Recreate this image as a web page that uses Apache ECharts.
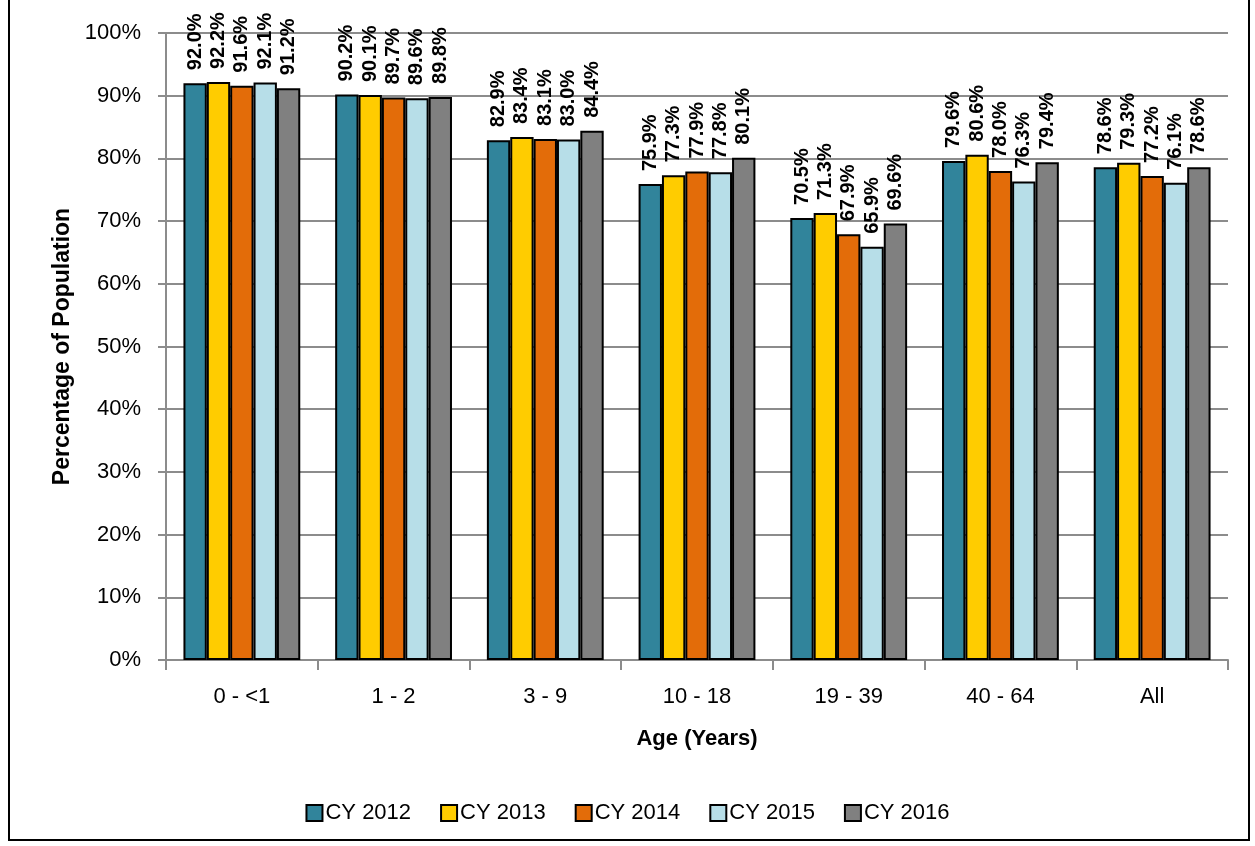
<!DOCTYPE html>
<html>
<head>
<meta charset="utf-8">
<script src="https://cdn.jsdelivr.net/npm/echarts@6/dist/echarts.min.js"></script>
<style>
  html, body { margin: 0; padding: 0; background: #fff; }
  #chart { width: 1255px; height: 846px; }
</style>
</head>
<body>
<div id="chart"></div>
<script>
// age groups on the x axis
var ageGroups = ['0 - <1', '1 - 2', '3 - 9', '10 - 18', '19 - 39', '40 - 64', 'All'];
var yearNames = ['CY 2012', 'CY 2013', 'CY 2014', 'CY 2015', 'CY 2016'];
var yearColors = ['#31849B', '#FFCC00', '#E36C09', '#B7DEE8', '#808080'];

var cy2012 = [92.0, 90.2, 82.9, 75.9, 70.5, 79.6, 78.6];
var cy2013 = [92.2, 90.1, 83.4, 77.3, 71.3, 80.6, 79.3];
var cy2014 = [91.6, 89.7, 83.1, 77.9, 67.9, 78.0, 77.2];
var cy2015 = [92.1, 89.6, 83.0, 77.8, 65.9, 76.3, 76.1];
var cy2016 = [91.2, 89.8, 84.4, 80.1, 69.6, 79.4, 78.6];

var yearValues = [cy2012, cy2013, cy2014, cy2015, cy2016];

var font = 'Liberation Sans';

var chart = echarts.init(document.getElementById('chart'), null, { renderer: 'canvas' });

var series = yearNames.map(function (name, i) {
    return {
        name: name,
        type: 'bar',
        data: yearValues[i],
        barGap: '0%',
        barCategoryGap: '23%',
        itemStyle: {
            color: yearColors[i],
            borderColor: '#000',
            borderWidth: 2
        },
        label: {
            show: true,
            position: 'top',
            rotate: 90,
            align: 'left',
            verticalAlign: 'middle',
            distance: 13,
            fontFamily: font,
            fontWeight: 'bold',
            fontSize: 20,
            color: '#000',
            formatter: function (p) {
                return p.value.toFixed(1) + '%';
            }
        }
    };
});

var option = {
    animation: false,
    backgroundColor: '#fff',
    graphic: [{
        type: 'rect',
        shape: { x: 9, y: -5, width: 1240, height: 845 },
        style: { fill: 'none', stroke: '#000', lineWidth: 2 },
        silent: true
    }],
    grid: {
        left: 166,
        right: 27,
        top: 33,
        bottom: 186
    },
    legend: {
        data: yearNames,
        top: 797,
        left: 'center',
        itemWidth: 16,
        itemHeight: 16,
        itemGap: 29,
        icon: 'rect',
        itemStyle: { borderColor: '#000', borderWidth: 2 },
        textStyle: { fontFamily: font, fontSize: 22, color: '#000', padding: [0, 0, 0, -2] }
    },
    xAxis: {
        type: 'category',
        data: ageGroups,
        name: 'Age (Years)',
        nameLocation: 'middle',
        nameGap: 68,
        nameTextStyle: { fontFamily: font, fontWeight: 'bold', fontSize: 22, color: '#000' },
        axisLine: { lineStyle: { color: '#8c8c8c', width: 2 } },
        axisTick: { show: true, length: 10, alignWithLabel: false, lineStyle: { color: '#8c8c8c', width: 2 } },
        axisLabel: { fontFamily: font, fontSize: 22, color: '#000', margin: 26 }
    },
    yAxis: {
        type: 'value',
        min: 0,
        max: 100,
        interval: 10,
        name: 'Percentage of Population',
        nameLocation: 'middle',
        nameGap: 87,
        nameTextStyle: { fontFamily: font, fontWeight: 'bold', fontSize: 23, color: '#000' },
        axisLine: { show: true, lineStyle: { color: '#8c8c8c', width: 2 } },
        axisTick: { show: true, length: 8, lineStyle: { color: '#8c8c8c', width: 2 } },
        axisLabel: { fontFamily: font, fontSize: 22, color: '#000', margin: 25, formatter: '{value}%' },
        splitLine: { lineStyle: { color: '#8c8c8c', width: 2 } }
    },
    series: series
};

chart.setOption(option);
</script>
</body>
</html>
